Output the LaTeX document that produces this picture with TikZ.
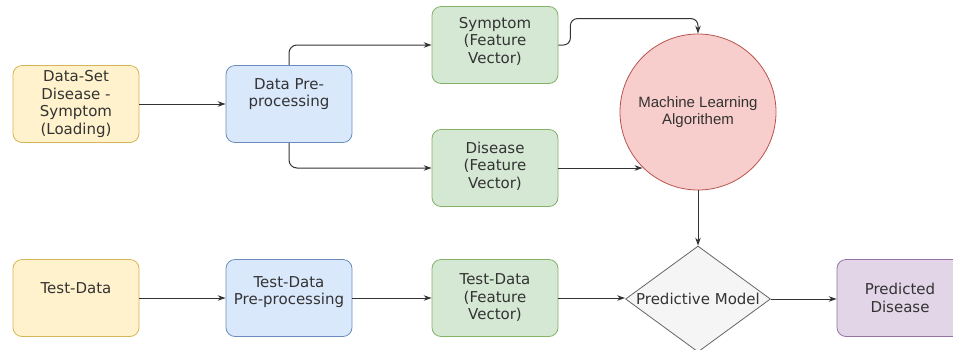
\documentclass[tikz,border=0pt]{standalone}
\usepackage{fontspec}
\setmainfont{DejaVu Sans}
\newfontfamily\arialfont{Liberation Sans}
\usetikzlibrary{shapes.geometric,arrows.meta}

\definecolor{yelfill}{HTML}{FFF2CC}
\definecolor{yeldraw}{HTML}{D6B656}
\definecolor{bluefill}{HTML}{DAE8FC}
\definecolor{bluedraw}{HTML}{6C8EBF}
\definecolor{grnfill}{HTML}{D5E8D4}
\definecolor{grndraw}{HTML}{82B366}
\definecolor{redfill}{HTML}{F8CECC}
\definecolor{reddraw}{HTML}{B85450}
\definecolor{grayfill}{HTML}{F5F5F5}
\definecolor{graydraw}{HTML}{666666}
\definecolor{purpfill}{HTML}{E1D5E7}
\definecolor{purpdraw}{HTML}{9673A6}
\definecolor{txtcol}{HTML}{333333}

\tikzstyle{box}=[rectangle,rounded corners=9pt,minimum width=126pt,minimum height=77pt,inner sep=0pt,line width=0.8pt]
\tikzstyle{lbl}=[align=center,font=\fontsize{15}{17.5}\selectfont,text=txtcol]
\tikzstyle{flow}=[-{Stealth[length=8pt,width=5.5pt]},line width=1pt,draw=black!80]

\begin{document}
\begin{tikzpicture}[x=1pt,y=-1pt]
  \useasboundingbox (0,0) rectangle (953,349);

  % upper row
  \node[box,fill=yelfill,draw=yeldraw,
        label={[lbl]center:{Data-Set\\Disease -\\Symptom\\(Loading)}}] (ds) at (76,104) {};
  \node[box,fill=bluefill,draw=bluedraw,
        label={[lbl,yshift=10pt]center:{Data Pre-\\processing}}] (pp) at (289,104) {};
  \node[box,fill=grnfill,draw=grndraw,
        label={[lbl,yshift=4pt]center:{Symptom\\(Feature\\Vector)}}] (sym) at (495,45) {};
  \node[box,fill=grnfill,draw=grndraw,
        label={[lbl,yshift=2pt]center:{Disease\\(Feature\\Vector)}}] (dis) at (495,168) {};
  \node[circle,fill=redfill,draw=reddraw,minimum size=156pt,inner sep=0pt,line width=0.8pt,
        label={[align=center,font=\arialfont\fontsize{15}{17.5}\selectfont,text=txtcol]center:{Machine Learning\\Algorithem}}] (ml) at (698,112) {};

  % lower row
  \node[box,fill=yelfill,draw=yeldraw,
        label={[lbl,yshift=10pt]center:{Test-Data}}] (td) at (76,298) {};
  \node[box,fill=bluefill,draw=bluedraw,
        label={[lbl,yshift=6pt]center:{Test-Data\\Pre-processing}}] (tdp) at (289,298) {};
  \node[box,fill=grnfill,draw=grndraw,
        label={[lbl]center:{Test-Data\\(Feature\\Vector)}}] (tdf) at (495,298) {};
  \node[diamond,fill=grayfill,draw=graydraw,minimum width=145pt,minimum height=106pt,inner sep=0pt,line width=0.8pt,
        label={[lbl]center:{Predictive Model}}] (pm) at (698,299) {};
  \node[box,fill=purpfill,draw=purpdraw,
        label={[lbl]center:{Predicted\\Disease}}] (pd) at (900,298) {};

  % connectors
  \draw[flow] (ds) -- (pp);
  \draw[flow,rounded corners=8pt] (pp.north) |- (sym);
  \draw[flow,rounded corners=8pt] (pp.south) |- (dis);
  \draw[flow,rounded corners=7pt] (sym.east) -- ++(12,0) |- ([yshift=15pt]ml.north) -- (ml.north);
  \draw[flow] (dis.east) -- (dis.east -| ml.225.9);
  \draw[flow] (ml) -- (pm);
  \draw[flow] (td) -- (tdp);
  \draw[flow] (tdp) -- (tdf);
  \draw[flow] (tdf.east) -- (tdf.east -| pm.west);
  \draw[flow] (pm.east) -- (pm.east -| pd.west);
\end{tikzpicture}
\end{document}
